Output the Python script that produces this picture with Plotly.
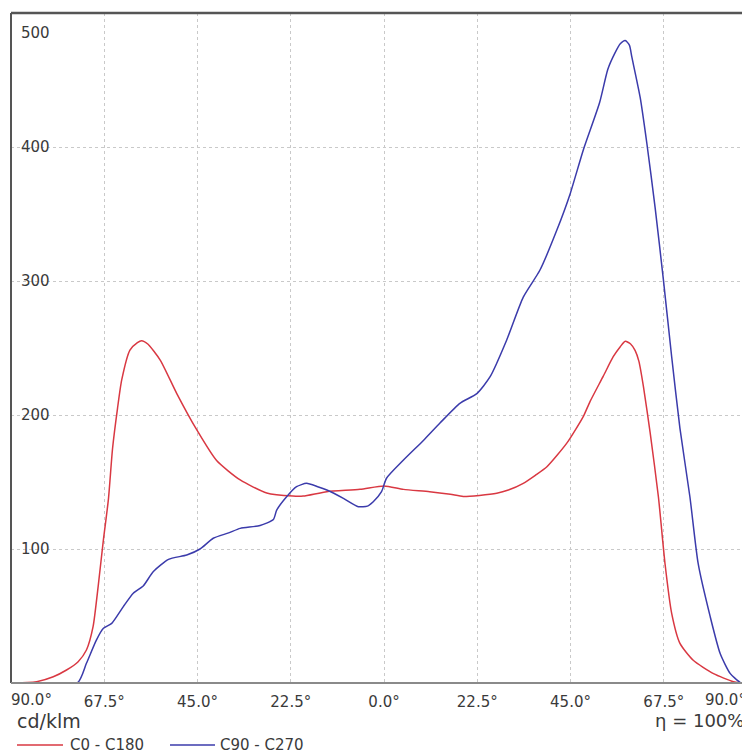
import plotly.graph_objects as go

# ---- data ----
C0_ANGLES = [-90, -86, -83.8, -79.8, -76.6, -73.8, -71.8, -70.2, -68.9, -67.7, -66.5, -65.5, -64.3,
             -63.3, -61.3, -59.5, -58.5, -57, -54, -50, -45.2, -40.4, -34.7, -28.3, -22, -19.5,
             -13.8, -5.8, 0, 4.7, 11, 16, 19.1, 23, 27.2, 30, 33.6, 36.5, 39.3, 44.1, 48.1, 49.7,
             52.9, 55.3, 57, 58.2, 59.5, 60.6, 61.5, 62.6, 64.2, 66.2, 67.8, 69.4, 71.4, 74.6,
             79.5, 84.3, 86.5, 90]
C0_VALUES = [0, 0.3, 1, 4.7, 9.7, 15.9, 24.6, 42, 74, 107, 137, 175, 205,
             226, 248.5, 254, 255.5, 253, 241, 216, 189, 166, 151.5, 141.8, 139.5, 139.5,
             142.8, 144.5, 147, 144.5, 142.8, 140.8, 139.2, 140, 141.6, 144, 149, 155, 161.4, 179, 199, 210,
             229, 243.5, 251, 255, 253, 248, 240, 221, 187, 139, 89, 52, 29.6, 17,
             7, 1, 0, 0]

C90_ANGLES = [-90, -74, -71.8, -69.4, -67.7, -65.7, -62.9, -60.5, -58.1, -55.7, -52, -47.6, -44.4,
              -41.2, -37.5, -34.7, -29.9, -26.7, -25.9, -23.5, -21.1, -18.7, -16, -13.8, -9.8, -6.2,
              -4, -2.6, -0.6, 0.6, 4.7, 9.5, 13.5, 18.3, 22.4, 25.6, 29.6, 33.6, 37.6, 41.7, 44.9,
              48.1, 52, 54, 55.7, 57, 58.2, 59.2, 59.8, 61.8, 63.4, 65.4, 67.4, 69.4, 71.4, 73.8,
              75.8, 78.7, 81.1, 83.5, 85.9, 87, 90]
C90_VALUES = [0, 0, 14.7, 32, 40.8, 44.5, 57, 67, 72.4, 83, 92.3, 95.5, 100,
              108, 112, 115.4, 117.5, 122, 129, 139, 146.5, 149, 146.5, 144, 137.8, 131.6,
              132, 135.3, 142.8, 152.8, 166.4, 181, 194, 208.7, 216, 228.6, 256, 288, 308, 338, 365,
              398, 433, 458, 470, 477, 479.5, 476, 467, 437, 403, 355, 301, 243.5, 190, 139,
              89, 49.5, 22, 7.2, 0.5, 0, 0]

X_TICK_VALS = [-67.5, -45, -22.5, 0, 22.5, 45, 67.5]
X_TICK_TEXT = ["67.5°", "45.0°", "22.5°", "0.0°", "22.5°", "45.0°", "67.5°"]
X_EDGE_TEXT = ["90.0°", "90.0°"]
Y_TICK_VALS = [100, 200, 300, 400, 500]
SERIES_NAMES = ["C0 - C180", "C90 - C270"]
UNIT_LABEL = "cd/klm"
EFFICIENCY_LABEL = "η = 100%"

RED = "#d93842"
BLUE = "#3b3bab"
FONT = "DejaVu Sans"
TEXT_COLOR = "#3a3a3a"

fig = go.Figure()
fig.add_trace(go.Scatter(x=C0_ANGLES, y=C0_VALUES, mode="lines", name=SERIES_NAMES[0],
                         line=dict(color=RED, width=1.5, shape="spline", smoothing=0.6)))
fig.add_trace(go.Scatter(x=C90_ANGLES, y=C90_VALUES, mode="lines", name=SERIES_NAMES[1],
                         line=dict(color=BLUE, width=1.5, shape="spline", smoothing=0.6)))

annotations = []
# y tick labels inside plot
for v in Y_TICK_VALS:
    annotations.append(dict(xref="paper", yref="y", x=0, y=v, xanchor="left", yanchor="middle",
                            xshift=8, yshift=-20 if v == 500 else 0, showarrow=False,
                            text=str(v), font=dict(family=FONT, size=15, color=TEXT_COLOR)))
# edge x labels
annotations.append(dict(xref="paper", yref="paper", x=0, y=0, xanchor="left", yanchor="middle",
                        xshift=-2, yshift=-17, showarrow=False, text=X_EDGE_TEXT[0],
                        font=dict(family=FONT, size=15, color=TEXT_COLOR)))
annotations.append(dict(xref="paper", yref="paper", x=1, y=0, xanchor="right", yanchor="middle",
                        xshift=-2, yshift=-17, showarrow=False, text=X_EDGE_TEXT[1],
                        font=dict(family=FONT, size=15, color=TEXT_COLOR)))
# unit and efficiency
annotations.append(dict(xref="paper", yref="paper", x=0, y=0, xanchor="left", yanchor="middle",
                        xshift=4, yshift=-38, showarrow=False, text=UNIT_LABEL,
                        font=dict(family=FONT, size=19, color=TEXT_COLOR)))
annotations.append(dict(xref="paper", yref="paper", x=1, y=0, xanchor="right", yanchor="middle",
                        xshift=-4, yshift=-37, showarrow=False, text=EFFICIENCY_LABEL,
                        font=dict(family=FONT, size=18, color=TEXT_COLOR)))
# legend texts
annotations.append(dict(xref="paper", yref="paper", x=0, y=0, xanchor="left", yanchor="middle",
                        xshift=57, yshift=-62, showarrow=False, text=SERIES_NAMES[0],
                        font=dict(family=FONT, size=15, color=TEXT_COLOR)))
annotations.append(dict(xref="paper", yref="paper", x=0, y=0, xanchor="left", yanchor="middle",
                        xshift=207, yshift=-62, showarrow=False, text=SERIES_NAMES[1],
                        font=dict(family=FONT, size=15, color=TEXT_COLOR)))

shapes = [
    # legend lines
    dict(type="line", xref="paper", yref="paper", xsizemode="pixel", ysizemode="pixel",
         xanchor=0, yanchor=0, x0=6, x1=52, y0=-62, y1=-62, line=dict(color=RED, width=1.5)),
    dict(type="line", xref="paper", yref="paper", xsizemode="pixel", ysizemode="pixel",
         xanchor=0, yanchor=0, x0=159, x1=204, y0=-62, y1=-62, line=dict(color=BLUE, width=1.5)),
    # frame: top and left
    dict(type="line", xref="paper", yref="paper", x0=0, x1=1.05, y0=1, y1=1,
         line=dict(color="#555555", width=2.5)),
    dict(type="line", xref="paper", yref="paper", x0=0, x1=0, y0=0, y1=1,
         line=dict(color="#555555", width=2)),
    # bottom axis line
    dict(type="line", xref="paper", yref="paper", x0=0, x1=1.05, y0=0, y1=0,
         line=dict(color="#8a8a8a", width=2)),
]

fig.update_layout(
    width=742, height=747,
    margin=dict(l=3, r=0, t=5, b=72),
    paper_bgcolor="white", plot_bgcolor="white",
    showlegend=False,
    annotations=annotations,
    shapes=shapes,
    xaxis=dict(range=[-90, 88.3], tickmode="array", tickvals=X_TICK_VALS, ticktext=X_TICK_TEXT,
               showgrid=True, gridcolor="#c9c9c9", griddash="dot", gridwidth=1,
               zeroline=False, showline=False, ticks="", ticklabelstandoff=8,
               tickfont=dict(family=FONT, size=15, color=TEXT_COLOR), fixedrange=True),
    yaxis=dict(range=[0, 500], tickmode="array", tickvals=Y_TICK_VALS[:-1],
               showgrid=True, gridcolor="#c9c9c9", griddash="dot", gridwidth=1,
               zeroline=False, showline=False, showticklabels=False, ticks="", fixedrange=True),
)

fig.write_html("out.html")
